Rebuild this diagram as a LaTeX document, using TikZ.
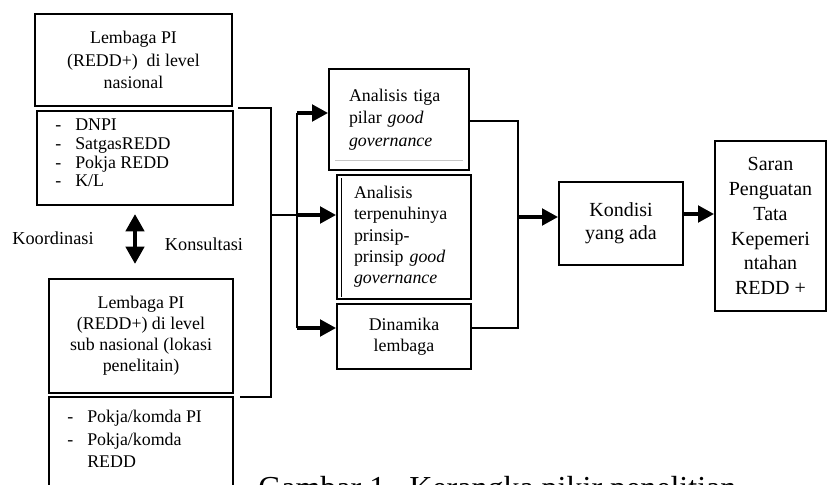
\documentclass[tikz,border=0pt]{standalone}
\usepackage{fontspec}
\setmainfont{Liberation Serif}
\usetikzlibrary{arrows.meta}
\begin{document}
\begin{tikzpicture}[x=0.75pt,y=-0.75pt,
  box/.style={draw=black, line width=1.5pt, inner sep=0pt, font=\fontsize{13.4}{16}\selectfont},
  listtext/.style={inner sep=0pt, align=left, anchor=north west},
  lbl/.style={inner sep=0pt, font=\fontsize{13.7}{16}\selectfont},
  thinline/.style={line width=1.1pt},
  thickarrow/.style={line width=2.4pt, -{Triangle[length=12pt,width=12.5pt]}},
  dblarrow/.style={line width=3.6pt, {Triangle[length=13pt,width=13.5pt]}-{Triangle[length=13pt,width=13.5pt]}}
]
\useasboundingbox (0,0) rectangle (828,485);

% left column
\node[box, minimum width=147.75pt, minimum height=69pt, align=center, font=\fontsize{13.4}{17}\selectfont] (nas) at (133.5,60) {Lembaga PI\\(REDD+)\ \ di level\\nasional};
\node[box, minimum width=147pt, minimum height=70.5pt] (nasl) at (135,158) {};
\node[listtext, font=\fontsize{13.4}{14}\selectfont] (nasltxt) at (55,119) {\makebox[15pt][l]{-}DNPI\\\makebox[15pt][l]{-}SatgasREDD\\\makebox[15pt][l]{-}Pokja REDD\\\makebox[15pt][l]{-}K/L};

\node[box, minimum width=138pt, minimum height=85.5pt, align=center, font=\fontsize{13.4}{15.75}\selectfont] (sub) at (141,336) {Lembaga PI\\(REDD+) di level\\sub nasional (lokasi\\penelitain)};
\node[box, minimum width=138pt, minimum height=81pt] (subl) at (141,451) {};
\node[listtext, font=\fontsize{13.4}{16.9}\selectfont] (subltxt) at (67,410) {\makebox[15pt][l]{-}Pokja/komda PI\\\makebox[15pt][l]{-}Pokja/komda\\\makebox[15pt][l]{}REDD};

\node[lbl] (koor) at (53,238) {Koordinasi};
\node[lbl] (kons) at (204,244) {Konsultasi};
\coordinate (dtop) at (135,214);
\coordinate (dbot) at (135,264);
\draw[dblarrow] (dtop) -- (dbot);

% middle column
\node[box, text width=75pt, inner xsep=15pt, minimum height=75.75pt, align=left, font=\fontsize{13.4}{17}\selectfont] (a1) at (399,119.5) {Analisis tiga\\pilar \textit{good}\\\textit{governance}};
\node[box, text width=75pt, inner xsep=12.75pt, minimum height=93pt, align=left, font=\fontsize{13.4}{16}\selectfont] (a2) at (404,237) {Analisis\\terpenuhinya\\prinsip-\\prinsip \textit{good}\\\textit{governance}};
\node[box, minimum width=100.5pt, minimum height=48.75pt, align=center, font=\fontsize{13.4}{16}\selectfont] (din) at (404,336.5) {Dinamika\\lembaga};
\draw[gray!45, line width=0.6pt] (335,160) -- (463,160);
\draw[line width=0.6pt] (341,178) -- (341,297);

% right column
\node[box, minimum width=93pt, minimum height=62.25pt, align=center, font=\fontsize{15}{17}\selectfont] (kon) at (621,223.5) {Kondisi\\yang ada};
\node[box, minimum width=83.25pt, minimum height=127.5pt, align=center, font=\fontsize{15}{18.6}\selectfont] (sar) at (770.5,226) {Saran\\Penguatan\\Tata\\Kepemeri\\ntahan\\REDD +};

% bracket from left column
\coordinate (bt) at (238,108);
\coordinate (btr) at (271,108);
\coordinate (bbr) at (271,397);
\coordinate (bb) at (240,397);
\coordinate (bm) at (271,215);
\coordinate (sp) at (297,215);
\coordinate (spt) at (297,113);
\coordinate (spb) at (297,328);
\draw[thinline] (bt) -- (btr) -- (bbr) -- (bb);
\draw[thinline] (bm) -- (sp);
\draw[thinline] (spt) -- (spb);
\draw[thickarrow] (spt) -- (spt -| a1.west);
\draw[thickarrow] (sp) -- (sp -| a2.west);
\draw[thickarrow] (spb) -- (spb -| din.west);

% right connectors
\coordinate (rt) at (518,121);
\coordinate (rb) at (518,328);
\coordinate (rm) at (518,217);
\draw[thinline] (rt -| a1.east) -- (rt) -- (rb) -- (rb -| din.east);
\draw[thickarrow] (rm) -- (rm -| kon.west);
\coordinate (km) at (683,214);
\draw[thickarrow] (kon.east |- km) -- (km -| sar.west);

% caption (cut off at the bottom)
\node[font=\fontsize{24}{28}\selectfont, anchor=base west, inner sep=0pt] (cap) at (258,498) {Gambar 1.\ \ Kerangka pikir penelitian};
\end{tikzpicture}
\end{document}
